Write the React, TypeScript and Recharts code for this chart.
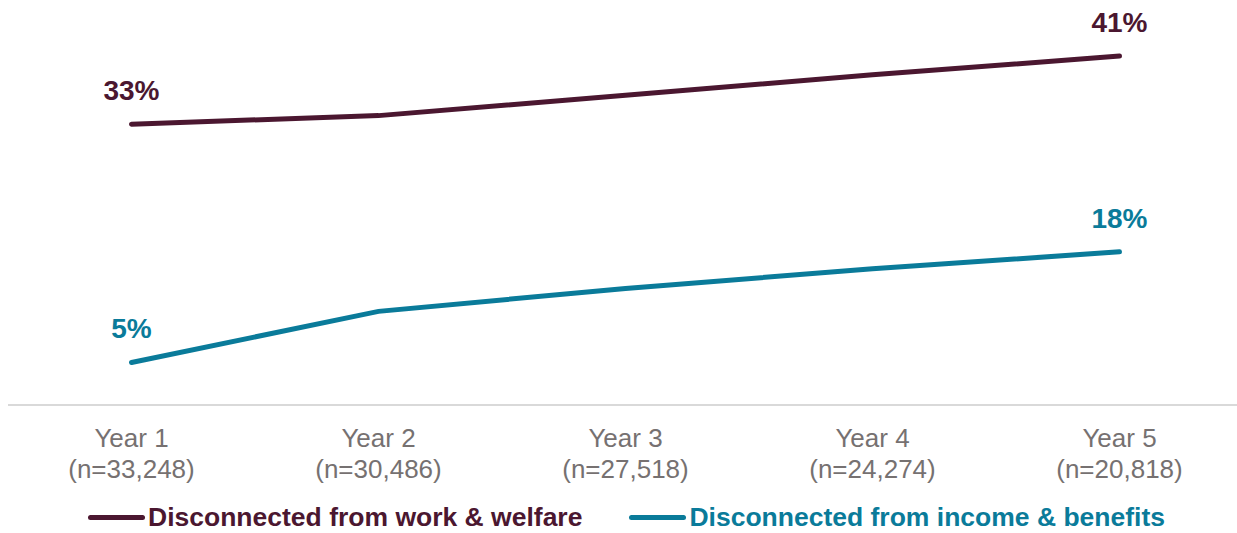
import React from 'react';
import { LineChart, Line, XAxis, YAxis, Legend, LabelList } from 'recharts';

// Share of cohort disconnected, by year since entry
const years = ['Year 1', 'Year 2', 'Year 3', 'Year 4', 'Year 5'];
const sampleSizes = ['(n=33,248)', '(n=30,486)', '(n=27,518)', '(n=24,274)', '(n=20,818)'];
const workWelfare = [33, 34, 36.4, 38.8, 41];
const incomeBenefits = [5, 11, 13.7, 16, 18];

const seriesNames = ['Disconnected from work & welfare', 'Disconnected from income & benefits'];

const MAROON = '#4B1730';
const TEAL = '#0A7B9A';
const FONT = '"Liberation Sans", Arial, sans-serif';

const data = years.map((year, i) => ({
  year,
  work: workWelfare[i],
  income: incomeBenefits[i],
}));

const YearTick = (props: any) => {
  const { x, y, payload, index } = props;
  return (
    <text textAnchor="middle" fill="#767171" fontSize={26} fontFamily={FONT}>
      <tspan x={x} y={y + 42}>{payload.value}</tspan>
      <tspan x={x} y={y + 73}>{sampleSizes[index]}</tspan>
    </text>
  );
};

const endLabel = (color: string) => (props: any) => {
  const { x, y, value, index } = props;
  if (index !== 0 && index !== years.length - 1) return null;
  return (
    <text
      x={x}
      y={y - 24}
      textAnchor="middle"
      fill={color}
      fontSize={28}
      fontWeight="bold"
      fontFamily={FONT}
    >
      {`${Math.round(value)}%`}
    </text>
  );
};

const LegendContent = () => {
  const items = [
    { name: seriesNames[0], color: MAROON },
    { name: seriesNames[1], color: TEAL },
  ];
  return (
    <div
      style={{
        height: 38,
        boxSizing: 'border-box',
        paddingTop: 11,
        paddingLeft: 88,
        display: 'flex',
        alignItems: 'flex-start',
        fontFamily: FONT,
      }}
    >
      {items.map((it, i) => (
        <div
          key={it.name}
          style={{
            display: 'flex',
            alignItems: 'center',
            marginRight: i === 0 ? 47 : 0,
            height: 22,
            lineHeight: '22px',
          }}
        >
          <span
            style={{
              display: 'inline-block',
              width: 57,
              height: 5,
              borderRadius: 3,
              background: it.color,
              marginRight: 3,
            }}
          />
          <span style={{ color: it.color, fontWeight: 'bold', fontSize: 26.5, whiteSpace: 'nowrap' }}>
            {it.name}
          </span>
        </div>
      ))}
    </div>
  );
};

export default function App() {
  return (
    <div
      style={{
        position: 'absolute',
        top: 0,
        left: 0,
        width: 1237,
        height: 533,
        overflow: 'hidden',
        background: '#ffffff',
      }}
    >
      <LineChart
        width={1243}
        height={533}
        data={data}
        margin={{ top: 22, right: 0, bottom: 0, left: 8 }}
      >
        <XAxis
          dataKey="year"
          height={90}
          padding={{ left: 123.5, right: 123.5 }}
          axisLine={{ stroke: '#D9D9D9', strokeWidth: 2 }}
          tickLine={false}
          tickSize={0}
          tickMargin={0}
          interval={0}
          tick={<YearTick />}
        />
        <YAxis hide domain={[0, 45]} />
        <Legend verticalAlign="bottom" height={38} wrapperStyle={{ left: 0, width: 1237 }} content={<LegendContent />} />
        <Line
          dataKey="work"
          name={seriesNames[0]}
          stroke={MAROON}
          strokeWidth={5}
          strokeLinecap="round"
          dot={false}
          activeDot={false}
          isAnimationActive={false}
          type="linear"
        >
          <LabelList dataKey="work" content={endLabel(MAROON)} />
        </Line>
        <Line
          dataKey="income"
          name={seriesNames[1]}
          stroke={TEAL}
          strokeWidth={5}
          strokeLinecap="round"
          dot={false}
          activeDot={false}
          isAnimationActive={false}
          type="linear"
        >
          <LabelList dataKey="income" content={endLabel(TEAL)} />
        </Line>
      </LineChart>
    </div>
  );
}
